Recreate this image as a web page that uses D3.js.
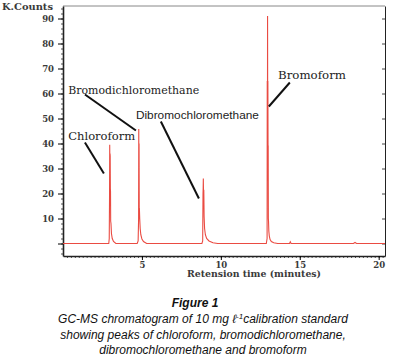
<!DOCTYPE html>
<html>
<head>
<meta charset="utf-8">
<script src="https://cdn.jsdelivr.net/npm/d3@7"></script>
<style>
  body { margin: 0; background: #fff; }
</style>
</head>
<body>
<svg width="394" height="359"></svg>
<script>
// chromatogram trace (minutes, K counts)
const traceTime = [0, 2.9, 2.93, 2.95, 2.96, 2.97, 2.98, 2.99, 3.0, 3.01, 3.02, 3.04, 3.07, 3.12, 3.2, 3.35,
                   4.7, 4.76, 4.79, 4.8, 4.81, 4.82, 4.83, 4.84, 4.86, 4.89, 4.93, 5.0, 5.1, 5.3,
                   8.8, 8.85, 8.87, 8.88, 8.89, 8.9, 8.92, 8.94, 8.97, 9.02, 9.1, 9.25, 9.5, 9.8,
                   12.88, 12.93, 12.94, 12.95, 12.96, 12.97, 12.98, 12.99, 13.0, 13.01, 13.02, 13.04, 13.07, 13.12, 13.2, 13.35, 13.6,
                   14.35, 14.4, 14.45, 18.4, 18.5, 18.6, 20.4];
const traceCounts = [0, 0, 2, 20, 39.5, 30, 36, 35, 22, 21, 9, 8, 4, 2, 0.8, 0,
                     0, 1, 10, 45.8, 20, 40, 14, 14, 10, 6, 3.5, 1.8, 0.8, 0,
                     0, 1, 20, 22, 26, 21, 21.5, 10.8, 6, 3.5, 2, 1, 0.3, 0,
                     0, 2, 65, 30, 91, 40, 65, 39, 39, 10, 9, 5, 3, 1.6, 0.8, 0.3, 0,
                     0, 0.7, 0, 0, 0.4, 0, 0];

const peakNames = ["Chloroform", "Bromodichloromethane", "Dibromochloromethane", "Bromoform"];

const yTicks = [0, 10, 20, 30, 40, 50, 60, 70, 80, 90];
const xTicks = [5, 10, 15, 20];

const captionLines = ["showing peaks of chloroform, bromodichloromethane,",
                      "dibromochloromethane and bromoform"];

const svg = d3.select("svg");

const x = d3.scaleLinear().domain([0, 20.4]).range([63, 385]);
const y = d3.scaleLinear().domain([-5, 95]).range([256, 6]);

// frame
svg.append("line")
   .attr("x1", x(0)).attr("x2", x(20.4))
   .attr("y1", y(95)).attr("y2", y(95))
   .attr("stroke", "#888").attr("stroke-width", 1);

const rightAx = svg.append("g")
   .attr("transform", `translate(${x(20.4)},0)`)
   .call(d3.axisRight(y).tickValues(yTicks).tickSize(-3).tickSizeOuter(0).tickFormat(""));
rightAx.select(".domain").attr("stroke", "#222");
rightAx.selectAll("line").attr("stroke", "#444");

// left axis: minor + major
svg.append("g")
   .attr("transform", `translate(${x(0)},0)`)
   .call(d3.axisLeft(y).tickValues(d3.range(-4, 95, 2)).tickSize(2).tickSizeOuter(0).tickFormat(""))
   .call(g => g.select(".domain").remove())
   .selectAll("line").attr("stroke", "#555");

const leftAx = svg.append("g")
   .attr("transform", `translate(${x(0)},0)`)
   .call(d3.axisLeft(y).tickValues(yTicks).tickSize(5).tickPadding(4).tickSizeOuter(0)
                      .tickFormat(d => d === 0 ? "" : d));
leftAx.select(".domain").attr("stroke", "#222").attr("stroke-width", 1.6);
leftAx.selectAll("text")
      .attr("font-family", "DejaVu Serif").attr("font-weight", "bold")
      .attr("font-size", 8.5).attr("fill", "#3a3a3a");

// bottom axis: minor + major
svg.append("g")
   .attr("transform", `translate(0,${y(-5)})`)
   .call(d3.axisBottom(x).tickValues(d3.range(0.25, 20.4, 0.25)).tickSize(2).tickSizeOuter(0).tickFormat(""))
   .call(g => g.select(".domain").remove())
   .selectAll("line").attr("stroke", "#555");

const bottomAx = svg.append("g")
   .attr("transform", `translate(0,${y(-5)})`)
   .call(d3.axisBottom(x).tickValues(xTicks).tickSize(4).tickPadding(2).tickSizeOuter(0));
bottomAx.select(".domain").attr("stroke", "#222").attr("stroke-width", 1.6);
bottomAx.selectAll("text")
        .attr("font-family", "DejaVu Serif").attr("font-weight", "bold")
        .attr("font-size", 8.5).attr("fill", "#3a3a3a");

svg.append("text")
   .attr("x", 187).attr("y", 277)
   .attr("textLength", 134).attr("lengthAdjust", "spacingAndGlyphs")
   .attr("font-family", "DejaVu Serif").attr("font-weight", "bold")
   .attr("font-size", 9).attr("fill", "#3a3a3a")
   .text("Retension time (minutes)");

svg.append("text")
   .attr("x", 2).attr("y", 10)
   .attr("textLength", 51).attr("lengthAdjust", "spacingAndGlyphs")
   .attr("font-family", "DejaVu Serif").attr("font-weight", "bold")
   .attr("font-size", 8.5).attr("fill", "#3a3a3a")
   .text("K.Counts");

// trace
const trace = traceTime.map((t, i) => [t, traceCounts[i]]);
const line = d3.line().x(d => x(d[0])).y(d => y(d[1]));

svg.append("path")
   .datum(trace)
   .attr("d", line)
   .attr("fill", "none")
   .attr("stroke", "#ea4b42")
   .attr("stroke-width", 1.1);

// peak labels with leader lines (positions in data units)
const labelLayout = [
    { at: [0.33, 41.4], len: 67, font: "DejaVu Serif", size: 11, from: [1.39, 40.4], to: [2.59, 28] },
    { at: [0.33, 59.8], len: 131, font: "DejaVu Serif", size: 11, from: [1.39, 59.6], to: [4.62, 45.2] },
    { at: [4.62, 49.8], len: 123, font: "Liberation Sans", size: 10.5, from: [6.2, 48.8], to: [8.61, 18] },
    { at: [13.62, 66], len: 68, font: "DejaVu Serif", size: 11, from: [14.37, 64.4], to: [13.04, 54.8] }
];

const labels = svg.selectAll("g.peak")
   .data(peakNames)
   .enter()
   .append("g")
   .attr("class", "peak");

labels.append("line")
      .attr("x1", (d, i) => x(labelLayout[i].from[0]))
      .attr("y1", (d, i) => y(labelLayout[i].from[1]))
      .attr("x2", (d, i) => x(labelLayout[i].to[0]))
      .attr("y2", (d, i) => y(labelLayout[i].to[1]))
      .attr("stroke", "#111")
      .attr("stroke-width", 2);

labels.append("text")
      .attr("x", (d, i) => x(labelLayout[i].at[0]))
      .attr("y", (d, i) => y(labelLayout[i].at[1]))
      .attr("textLength", (d, i) => labelLayout[i].len)
      .attr("lengthAdjust", "spacingAndGlyphs")
      .attr("font-family", (d, i) => labelLayout[i].font)
      .attr("font-size", (d, i) => labelLayout[i].size)
      .attr("fill", "#222")
      .text(d => d);

// caption
const cap = svg.append("g")
   .attr("font-family", "Liberation Sans, Arial, sans-serif")
   .attr("font-style", "italic")
   .attr("font-size", 12)
   .attr("fill", "#111")
   .attr("text-anchor", "middle");

cap.append("text")
   .attr("x", 195).attr("y", 307)
   .attr("font-weight", "bold")
   .text("Figure 1");

const l2 = cap.append("text").attr("x", 203).attr("y", 323);
l2.append("tspan").text("GC-MS chromatogram of 10 mg ℓ");
l2.append("tspan").attr("dy", -4).attr("font-size", 8).text("-1");
l2.append("tspan").attr("dy", 4).text("calibration standard");

cap.selectAll("text.line")
   .data(captionLines)
   .enter()
   .append("text")
   .attr("class", "line")
   .attr("x", 203)
   .attr("y", (d, i) => 339 + i * 15)
   .text(d => d);
</script>
</body>
</html>
